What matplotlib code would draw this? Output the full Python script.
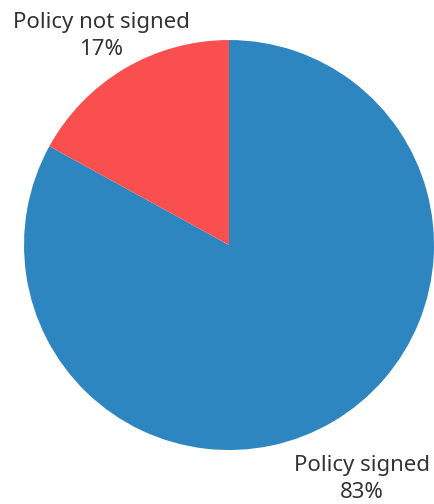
import matplotlib.pyplot as plt

labels = ["Policy signed", "Policy not signed"]
shares = [83, 17]
colors = ["#2e86c1", "#fa4f4f"]

plt.rcParams['font.family'] = ['Noto Sans', 'DejaVu Sans']

fig = plt.figure(figsize=(4.35, 5.04), dpi=100)
ax = fig.add_axes([0.0552, 0.1071, 0.9425, 0.8135])

wedges, texts = ax.pie(shares, colors=colors, startangle=90, counterclock=False,
                       labels=[f"{l}\n{s}%" for l, s in zip(labels, shares)],
                       labeldistance=1.25, radius=1,
                       textprops=dict(fontsize=16, color="#333333", linespacing=1.4))
for t in texts:
    t.set_ha("center")
    t.set_va("center")
texts[0].set_position((0.649, -1.14))
texts[1].set_position((-0.624, 1.02))

ax.set_xlim(-1, 1)
ax.set_ylim(-1, 1)
ax.set_aspect("equal")
ax.axis("off")

fig.savefig("out.png", dpi=100)
